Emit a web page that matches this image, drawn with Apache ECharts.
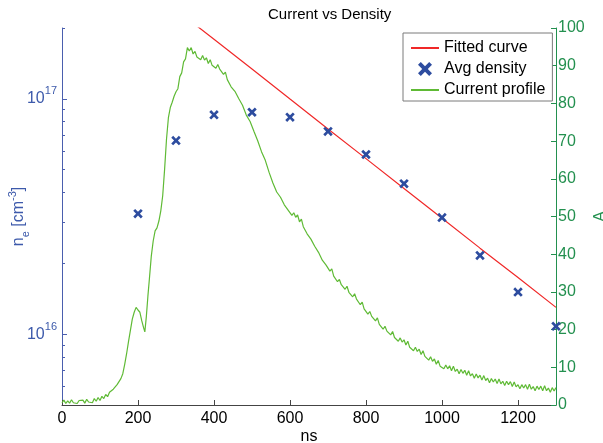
<!DOCTYPE html>
<html><head><meta charset="utf-8">
<script src="https://cdn.jsdelivr.net/npm/echarts@6/dist/echarts.min.js"></script>
<style>html,body{margin:0;padding:0;background:#fff}#c{width:603px;height:443px}</style>
</head><body><div id="c"></div>
<script>
// ---- data ----
const xTicks = [0, 200, 400, 600, 800, 1000, 1200];
const rightTicks = [0, 10, 20, 30, 40, 50, 60, 70, 80, 90, 100];
const majorLogTicks = [1e16, 1e17];
const minorLogTicks = [6e15, 7e15, 8e15, 9e15, 2e16, 3e16, 4e16, 5e16, 6e16, 7e16, 8e16, 9e16, 2e17];

const densityNs = [200, 300, 400, 500, 600, 700, 800, 900, 1000, 1100, 1200, 1300];
const densityValues = [3.25e16, 6.65e16, 8.55e16, 8.77e16, 8.36e16, 7.27e16, 5.80e16, 4.36e16, 3.13e16, 2.16e16, 1.51e16, 1.08e16];

const fitNs = [350, 400, 500, 600, 700, 800, 900, 1000, 1100, 1200, 1300];
const fitValues = [2.07e17, 1.79e17, 1.34e17, 9.98e16, 7.45e16, 5.57e16, 4.16e16, 3.11e16, 2.32e16, 1.74e16, 1.30e16];

const currentProfile = [
[0,0.6],[5,1.3],[10,0.4],[15,1.1],[20,0.5],[25,1.4],[30,0.6],[35,1.0],[40,0.4],[45,1.2],[50,0.7],[55,1.3],[60,0.5],[65,1.5],[70,0.8],[75,1.2],[80,0.6],[85,1.7],[90,1.0],[95,2.0],
[100,1.2],[105,2.3],[110,1.7],[115,2.8],[120,2.2],[125,3.4],[130,2.9],[135,4.2],[140,4.0],[145,5.4],[150,5.6],[155,7.0],[160,8.3],[165,10.8],[170,13.6],[175,16.8],[180,19.8],[185,22.8],[190,24.6],[195,25.9],
[200,25.2],[205,24.6],[210,22.3],[215,20.4],[218,19.4],[222,23.5],[226,28.8],[230,33.5],[235,39.5],[240,43.5],[245,46.2],[250,47.0],[255,48.8],[260,51.5],[265,55.5],[270,62.5],[275,70.5],[280,76.2],[285,78.9],[290,80.3],[295,81.9],
[300,83.1],[305,83.9],[310,87.1],[315,88.1],[320,91.0],[325,91.8],[330,94.8],[335,93.9],[340,94.8],[345,93.1],[350,93.8],[355,92.3],[360,92.8],[365,91.6],[370,92.7],[375,91.5],[380,92.1],[385,90.6],[390,91.6],[395,90.1],
[400,90.6],[405,89.3],[410,90.3],[415,89.1],[420,89.6],[425,87.7],[430,88.3],[435,86.3],[440,86.3],[445,84.4],[450,84.8],[455,83.2],[460,83.3],[465,81.3],[470,81.8],[475,79.5],[480,79.1],[485,76.9],[490,77.0],[495,75.2],
[500,75.1],[505,72.6],[510,72.6],[515,70.1],[520,69.6],[525,67.2],[530,67.0],[535,64.9],[540,64.6],[545,61.7],[550,61.3],[555,58.9],[560,58.5],[565,56.5],[570,56.8],[575,55.1],[580,55.1],[585,53.1],[590,53.6],[595,51.7],
[600,51.8],[605,50.3],[610,51.0],[615,49.8],[620,50.4],[625,48.6],[630,49.3],[635,47.3],[640,47.3],[645,45.4],[650,45.7],[655,44.0],[660,44.1],[665,42.1],[670,42.6],[675,40.5],[680,40.3],[685,38.4],[690,38.7],[695,37.1],
[700,37.3],[705,35.5],[710,36.1],[715,34.2],[720,34.3],[725,32.7],[730,33.3],[735,31.9],[740,32.3],[745,30.7],[750,31.5],[755,29.9],[760,30.2],[765,28.7],[770,29.5],[775,28.1],[780,28.4],[785,26.6],[790,27.3],[795,25.5],
[800,25.6],[805,24.1],[810,24.8],[815,23.5],[820,23.9],[825,22.3],[830,23.1],[835,21.4],[840,21.6],[845,20.1],[850,20.9],[855,19.6],[860,20.1],[865,18.6],[870,19.5],[875,17.9],[880,18.3],[885,16.9],[890,17.8],[895,16.7],
[900,17.3],[905,15.9],[910,16.9],[915,15.3],[920,15.7],[925,14.4],[930,15.3],[935,14.2],[940,14.8],[945,13.4],[950,14.4],[955,12.9],[960,13.3],[965,11.9],[970,12.8],[975,11.6],[980,12.2],[985,10.8],[990,11.8],[995,10.3],
[1000,10.8],[1005,9.6],[1010,10.6],[1015,9.6],[1020,10.4],[1025,9.1],[1030,10.3],[1035,8.9],[1040,9.5],[1045,8.3],[1050,9.4],[1055,8.4],[1060,9.2],[1065,7.9],[1070,9.1],[1075,7.7],[1080,8.3],[1085,7.1],[1090,8.2],[1095,7.2],
[1100,7.9],[1105,6.6],[1110,7.8],[1115,6.5],[1120,7.1],[1125,5.9],[1130,7.0],[1135,6.1],[1140,6.9],[1145,5.7],[1150,6.9],[1155,5.6],[1160,6.3],[1165,5.2],[1170,6.3],[1175,5.4],[1180,6.2],[1185,4.9],[1190,6.1],[1195,4.8],
[1200,5.4],[1205,4.3],[1210,5.4],[1215,4.5],[1220,5.4],[1225,4.2],[1230,5.5],[1235,4.2],[1240,4.9],[1245,3.8],[1250,5.0],[1255,4.1],[1260,5.0],[1265,3.8],[1270,5.1],[1275,3.8],[1280,4.5],[1285,3.4],[1290,4.6],[1295,3.7],[1300,4.6]
];

// ---- styles ----
const FONT = '"Liberation Sans", Arial, sans-serif';
const BLUE_AXIS = '#4a5eae';
const BLUE_TXT = '#3d5aab';
const GREEN_AXIS = '#23904f';
const MARK_BLUE = '#2d4c9f';
const RED = '#f02828';
const GREEN_LINE = '#5fba35';
const XMARK = 'path://M0,2 L2,0 L5,3 L8,0 L10,2 L7,5 L10,8 L8,10 L5,7 L2,10 L0,8 L3,5 Z';

const chart = echarts.init(document.getElementById('c'), null, {renderer: 'canvas'});
chart.setOption({
  animation: false,
  backgroundColor: '#ffffff',
  textStyle: {fontFamily: FONT},
  title: {
    text: 'Current vs Density',
    left: 263, top: 2,
    textStyle: {fontFamily: FONT, fontSize: 15, fontWeight: 'normal', color: '#000'}
  },
  legend: {
    orient: 'vertical', left: 403, top: 33,
    padding: [7, 7, 3, 7],
    itemWidth: 28, itemHeight: 14, itemGap: 5,
    borderColor: '#7a7a7a', borderWidth: 1, backgroundColor: '#fff',
    textStyle: {fontFamily: FONT, fontSize: 16, color: '#000'},
    data: [
      {name: 'Fitted curve', itemStyle: {opacity: 0}},
      {name: 'Avg density'},
      {name: 'Current profile', itemStyle: {opacity: 0}}
    ]
  },
  grid: {left: 62, right: 47, top: 28, bottom: 38, containLabel: false, outerBoundsMode: 'none'},
  xAxis: {
    type: 'value', min: 0, max: 1300, interval: 200,
    name: 'ns', nameLocation: 'middle', nameGap: 24, nameMoveOverlap: false,
    nameTextStyle: {fontFamily: FONT, fontSize: 16, color: '#000'},
    axisLine: {show: true, lineStyle: {color: '#444', width: 1}},
    axisTick: {show: true, inside: true, length: 5, lineStyle: {color: '#444'}, customValues: xTicks},
    axisLabel: {
      fontFamily: FONT, fontSize: 16, color: '#000', margin: 6,
      customValues: xTicks,
      formatter: function (v) { return String(v); }
    },
    splitLine: {show: false}
  },
  yAxis: [
    {
      type: 'log', logBase: 10, min: 5e15, max: 2e17, position: 'left',
      name: 'n{sub|e} [cm{sup|-3}]', nameLocation: 'middle', nameRotate: 90, nameGap: 31, nameMoveOverlap: false,
      nameTextStyle: {
        fontFamily: FONT, fontSize: 16, color: BLUE_TXT, lineHeight: 24,
        rich: {
          sub: {fontFamily: FONT, fontSize: 11, color: BLUE_TXT, verticalAlign: 'bottom', lineHeight: 10},
          sup: {fontFamily: FONT, fontSize: 11, color: BLUE_TXT, verticalAlign: 'top', lineHeight: 10}
        }
      },
      axisLine: {show: true, lineStyle: {color: BLUE_AXIS, width: 1}},
      axisTick: {show: true, inside: true, length: 5, lineStyle: {color: BLUE_AXIS}, customValues: majorLogTicks},
      axisLabel: {
        margin: 5,
        customValues: majorLogTicks,
        formatter: function (v) {
          const e = Math.round(Math.log10(v));
          return '{b|10}{s|' + e + '}';
        },
        rich: {
          b: {fontFamily: FONT, fontSize: 16, color: BLUE_TXT, lineHeight: 26, verticalAlign: 'middle'},
          s: {fontFamily: FONT, fontSize: 11, color: BLUE_TXT, lineHeight: 10, verticalAlign: 'top'}
        }
      },
      splitLine: {show: false}
    },
    {
      type: 'log', logBase: 10, min: 5e15, max: 2e17, position: 'left',
      axisLine: {show: false},
      axisTick: {show: true, inside: true, length: 3, lineStyle: {color: BLUE_AXIS}, customValues: minorLogTicks},
      axisLabel: {show: false},
      splitLine: {show: false}
    },
    {
      type: 'value', min: 0, max: 100, interval: 10, position: 'right',
      name: 'A', nameLocation: 'middle', nameRotate: 90, nameGap: 37, nameMoveOverlap: false,
      nameTextStyle: {fontFamily: FONT, fontSize: 16, color: GREEN_AXIS},
      axisLine: {show: true, lineStyle: {color: GREEN_AXIS, width: 1}},
      axisTick: {show: true, inside: true, length: 5, lineStyle: {color: GREEN_AXIS}},
      axisLabel: {fontFamily: FONT, fontSize: 16, color: GREEN_AXIS, margin: 2, customValues: rightTicks},
      splitLine: {show: false}
    }
  ],
  series: [
    {
      name: 'Fitted curve', type: 'line', yAxisIndex: 0,
      data: fitNs.map((t, i) => [t, fitValues[i]]),
      symbol: 'none', clip: true,
      lineStyle: {color: RED, width: 1.2}, itemStyle: {color: RED},
      z: 2
    },
    {
      name: 'Avg density', type: 'scatter', yAxisIndex: 0,
      data: densityNs.map((t, i) => [t, densityValues[i]]),
      symbol: XMARK, symbolSize: 9.5, symbolKeepAspect: true,
      itemStyle: {color: MARK_BLUE, opacity: 1},
      z: 4
    },
    {
      name: 'Current profile', type: 'line', yAxisIndex: 2,
      data: currentProfile,
      symbol: 'none', clip: true,
      lineStyle: {color: GREEN_LINE, width: 1.2}, itemStyle: {color: GREEN_LINE},
      z: 3
    }
  ]
});
</script>
</body></html>
